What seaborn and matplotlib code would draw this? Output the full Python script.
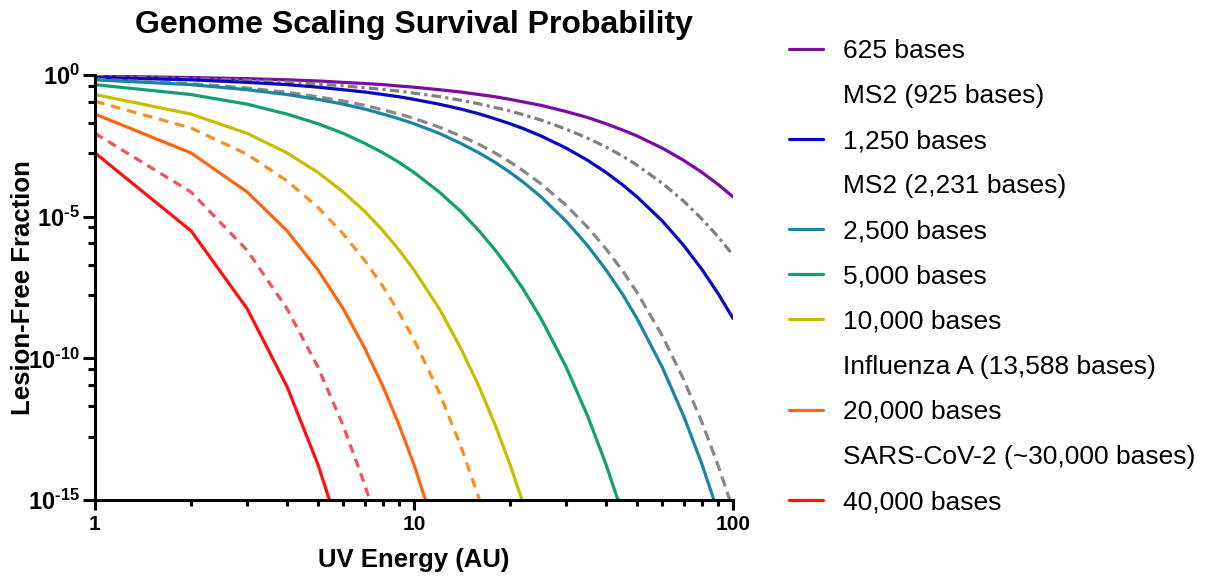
import numpy as np
import pandas as pd
import matplotlib
matplotlib.use("Agg")
import matplotlib.pyplot as plt
from matplotlib.lines import Line2D
from matplotlib.ticker import FixedLocator, NullFormatter
import seaborn as sns

# ---------------- data ----------------
energy = [1, 2, 3, 4, 5, 6, 7, 8, 9, 10, 12, 14, 16, 18, 20, 22, 25,
          30, 35, 40, 45, 50, 60, 70, 80, 90, 100]

series_names = ["625 bases", "MS2 (925 bases)", "1,250 bases", "MS2 (2,231 bases)",
                "2,500 bases", "5,000 bases", "10,000 bases",
                "Influenza A (13,588 bases)", "20,000 bases",
                "SARS-CoV-2 (~30,000 bases)", "40,000 bases"]

# log10 of lesion-free fraction, read at each energy value
exp_625 = [-0.04, -0.09, -0.13, -0.17, -0.21, -0.26, -0.30, -0.34, -0.39, -0.43, -0.52,
           -0.60, -0.69, -0.77, -0.86, -0.95, -1.07, -1.29, -1.50, -1.72, -1.94, -2.15,
           -2.58, -3.01, -3.44, -3.87, -4.30]
exp_925 = [-0.06, -0.13, -0.19, -0.25, -0.32, -0.38, -0.45, -0.51, -0.57, -0.64, -0.76,
           -0.89, -1.02, -1.15, -1.27, -1.40, -1.59, -1.91, -2.23, -2.54, -2.86, -3.18,
           -3.82, -4.45, -5.09, -5.72, -6.36]
exp_1250 = [-0.09, -0.17, -0.26, -0.34, -0.43, -0.52, -0.60, -0.69, -0.77, -0.86, -1.03,
            -1.20, -1.37, -1.55, -1.72, -1.89, -2.15, -2.58, -3.01, -3.44, -3.87, -4.30,
            -5.15, -6.01, -6.87, -7.73, -8.59]
exp_2231 = [-0.15, -0.31, -0.46, -0.61, -0.77, -0.92, -1.07, -1.23, -1.38, -1.53, -1.84,
            -2.15, -2.45, -2.76, -3.07, -3.38, -3.84, -4.60, -5.37, -6.14, -6.90, -7.67,
            -9.20, -10.74, -12.27, -13.81, -15.34]
exp_2500 = [-0.17, -0.34, -0.52, -0.69, -0.86, -1.03, -1.20, -1.38, -1.55, -1.72, -2.06,
            -2.41, -2.75, -3.09, -3.44, -3.78, -4.30, -5.16, -6.02, -6.88, -7.73, -8.59,
            -10.31, -12.03, -13.75, -15.47]
exp_5000 = [-0.34, -0.69, -1.03, -1.38, -1.72, -2.06, -2.41, -2.75, -3.09, -3.44, -4.13,
            -4.81, -5.50, -6.19, -6.88, -7.56, -8.59, -10.31, -12.03, -13.75, -15.47]
exp_10000 = [-0.69, -1.38, -2.06, -2.75, -3.44, -4.13, -4.81, -5.50, -6.19, -6.88, -8.25,
             -9.63, -11.00, -12.38, -13.75, -15.13]
exp_13588 = [-0.93, -1.87, -2.80, -3.74, -4.67, -5.61, -6.54, -7.47, -8.41, -9.34, -11.21,
             -13.08, -14.95, -16.82]
exp_20000 = [-1.38, -2.75, -4.13, -5.50, -6.88, -8.25, -9.63, -11.00, -12.38, -13.75, -16.50]
exp_30000 = [-2.06, -4.13, -6.19, -8.25, -10.31, -12.38, -14.44, -16.50]
exp_40000 = [-2.75, -5.50, -8.25, -11.00, -13.75, -16.50]

series_exps = [exp_625, exp_925, exp_1250, exp_2231, exp_2500, exp_5000, exp_10000,
               exp_13588, exp_20000, exp_30000, exp_40000]

colors = ["#7B0CA0", "#808080", "#0808C4", "#888888", "#1A86A0", "#12A070",
          "#C2C000", "#FF8C1E", "#FF6410", "#F2525E", "#FF1010"]
dash_styles = ["", (3.0, 1.3, 1.0, 1.3), "", (3.3, 1.8), "", "", "",
               (3.0, 2.2), "", (2.8, 2.0), ""]
legend_visible = [True, False, True, False, True, True, True, False, True, False, True]

x_ticks = [1, 10, 100]
x_ticklabels = ["1", "10", "100"]
y_ticks = [1e0, 1e-5, 1e-10, 1e-15]
HY = "\u2010"
y_ticklabels = [r"$\mathbf{10^{0}}$", r"$\mathbf{10^{" + HY + "5}}$",
                r"$\mathbf{10^{" + HY + "10}}$", r"$\mathbf{10^{" + HY + "15}}$"]

# ---------------- build table ----------------
rows = []
for name, ex in zip(series_names, series_exps):
    for e, v in zip(energy, ex):
        rows.append({"E": e, "y": 10.0 ** v, "series": name})
df = pd.DataFrame(rows)

# ---------------- style ----------------
sns.set_theme(style="ticks")
plt.rcParams["font.family"] = ["Liberation Sans", "DejaVu Sans"]
plt.rcParams["mathtext.fontset"] = "custom"
plt.rcParams["mathtext.rm"] = "Liberation Sans"
plt.rcParams["mathtext.bf"] = "Liberation Sans:bold"
plt.rcParams["mathtext.it"] = "Liberation Sans:italic"
for key in ["text.color", "axes.labelcolor", "xtick.color", "ytick.color",
            "axes.edgecolor"]:
    plt.rcParams[key] = "black"

fig = plt.figure(figsize=(12.10, 5.79), dpi=100)
ax = fig.add_axes([95 / 1210, 1 - 500 / 579, 638 / 1210, 425 / 579])

palette = dict(zip(series_names, colors))
dashes = dict(zip(series_names, dash_styles))

sns.lineplot(data=df, x="E", y="y", hue="series", style="series",
             hue_order=series_names, style_order=series_names,
             palette=palette, dashes=dashes, linewidth=2.3,
             estimator=None, sort=False, legend=False, ax=ax)

ax.set_xscale("log")
ax.set_yscale("log")
ax.set_xlim(1, 100)
ax.set_ylim(1e-15, 1)

# ticks
ax.xaxis.set_major_locator(FixedLocator(x_ticks))
ax.set_xticklabels(x_ticklabels)
x_minor = [k * 10 ** d for d in (0, 1) for k in range(2, 10)]
ax.xaxis.set_minor_locator(FixedLocator(x_minor))
ax.xaxis.set_minor_formatter(NullFormatter())

ax.yaxis.set_major_locator(FixedLocator(y_ticks))
ax.set_yticklabels(y_ticklabels)
y_minor_offsets = [0.38, 0.94, 1.69, 2.77]
y_minor = [10.0 ** (-5 * j - o) for j in range(3) for o in y_minor_offsets]
ax.yaxis.set_minor_locator(FixedLocator(y_minor))
ax.yaxis.set_minor_formatter(NullFormatter())

for lab in ax.get_xticklabels():
    lab.set_fontweight("bold")
ax.tick_params(axis="x", which="major", length=7.5, width=2.2, labelsize=15, pad=3,
               colors="black")
ax.tick_params(axis="x", which="minor", length=4, width=2.2)
ax.tick_params(axis="y", which="major", length=9, width=2.2, labelsize=17, pad=2)
ax.tick_params(axis="y", which="minor", length=5, width=2.2)

for s in ["top", "right"]:
    ax.spines[s].set_visible(False)
for s in ["left", "bottom"]:
    ax.spines[s].set_linewidth(2.2)
    ax.spines[s].set_color("black")

ax.set_xlabel("UV Energy (AU)", fontsize=18.5, fontweight="bold")
ax.xaxis.set_label_coords(0.5, (500 - 548) / 425)
ax.set_ylabel("Lesion-Free Fraction", fontsize=18.5, fontweight="bold")
ax.yaxis.set_label_coords((35 - 95) / 638, 0.5)
ax.set_title("Genome Scaling Survival Probability", fontsize=23, fontweight="bold",
             pad=30)

# legend
handles = []
for name, c, d, vis in zip(series_names, colors, dash_styles, legend_visible):
    handles.append(Line2D([], [], color=c if vis else "none", linewidth=2.3))
fig.legend(handles, series_names, loc="upper left",
           bbox_to_anchor=(789 / 1210, 1 - 39 / 579), frameon=False,
           fontsize=19, handlelength=1.29, handletextpad=0.76,
           labelspacing=0.80, borderpad=0, borderaxespad=0)

fig.savefig("out.png", dpi=100)
